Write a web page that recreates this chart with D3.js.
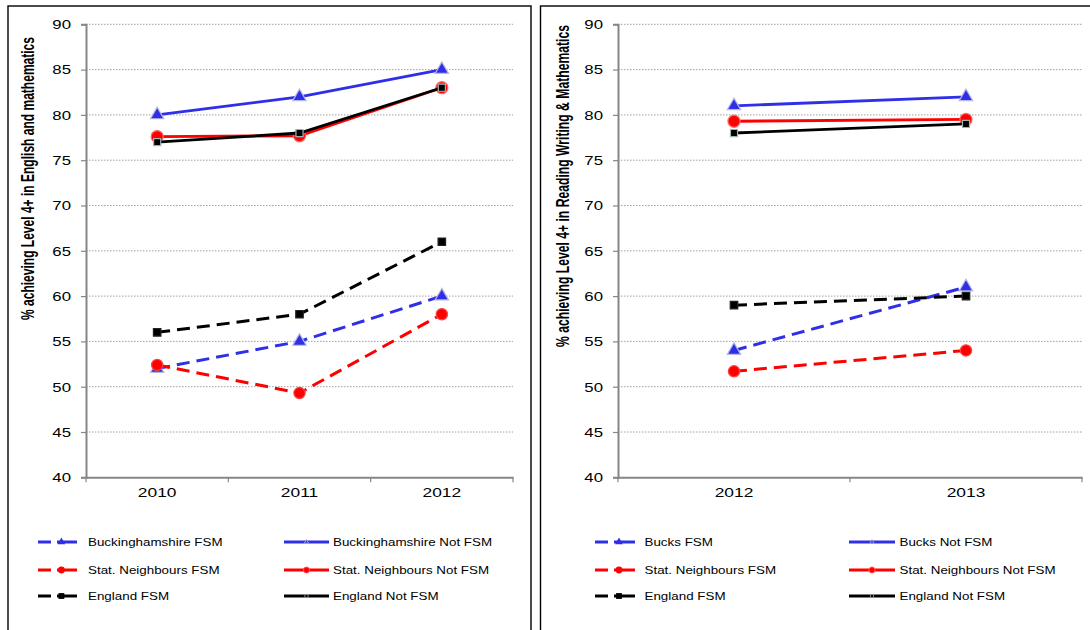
<!DOCTYPE html>
<html>
<head>
<meta charset="utf-8">
<script src="https://cdn.jsdelivr.net/npm/d3@7"></script>
<style>
  html, body { margin: 0; padding: 0; background: #fff; }
  svg { display: block; font-family: "Liberation Sans", Arial, sans-serif; }
</style>
</head>
<body>
<svg id="chart" width="1090" height="630"></svg>
<script>
// ---------------- DATA ----------------
const yTicks = [40, 45, 50, 55, 60, 65, 70, 75, 80, 85, 90];

// Left panel: English and mathematics
const yearsLeft = ["2010", "2011", "2012"];
const titleLeft = "% achieving Level 4+ in English and mathematics";
const namesLeft = ["Buckinghamshire FSM", "Buckinghamshire Not FSM",
                   "Stat. Neighbours FSM", "Stat. Neighbours Not FSM",
                   "England FSM", "England Not FSM"];
const bucksFsmLeft    = [52, 55, 60];
const bucksNotLeft    = [80, 82, 85];
const statFsmLeft     = [52.4, 49.3, 58];
const statNotLeft     = [77.6, 77.7, 83];
const englandFsmLeft  = [56, 58, 66];
const englandNotLeft  = [77, 78, 83];

// Right panel: Reading, Writing & Mathematics
const yearsRight = ["2012", "2013"];
const titleRight = "% achieving Level 4+ in Reading Writing & Mathematics";
const namesRight = ["Bucks FSM", "Bucks Not FSM",
                    "Stat. Neighbours FSM", "Stat. Neighbours Not FSM",
                    "England FSM", "England Not FSM"];
const bucksFsmRight   = [54, 61];
const bucksNotRight   = [81, 82];
const statFsmRight    = [51.7, 54];
const statNotRight    = [79.3, 79.5];
const englandFsmRight = [59, 60];
const englandNotRight = [78, 79];

// ---------------- STYLES ----------------
const BLUE = "#2f2fe8", RED = "#ff0000", BLACK = "#000000";
const seriesStyle = [
  { color: BLUE,  dashed: true,  shape: d3.symbolTriangle, size: 78, stroke: "#b8b8e0", lsize: 26 },
  { color: BLUE,  dashed: false, shape: d3.symbolTriangle, size: 78, stroke: "#b8b8e0", lsize: 8 },
  { color: RED,   dashed: true,  shape: d3.symbolCircle,   size: 100, stroke: "#ff4040", lsize: 36 },
  { color: RED,   dashed: false, shape: d3.symbolCircle,   size: 115, stroke: "#ff6a6a", lsize: 30 },
  { color: BLACK, dashed: true,  shape: d3.symbolSquare,   size: 56, stroke: "#222",    lsize: 34 },
  { color: BLACK, dashed: false, shape: d3.symbolSquare,   size: 50, stroke: "#9fb2b2", lsize: 10 }
];

const panels = [
  { frame: [8, 6, 523, 640], axisX: 86, axisRight: 513, top: 24.3, bottom: 477.3,
    years: yearsLeft, title: titleLeft, titleX: 34, titleY: 178.5, titleLen: 283,
    names: namesLeft,
    series: [bucksFsmLeft, bucksNotLeft, statFsmLeft, statNotLeft, englandFsmLeft, englandNotLeft],
    legendCols: [{ x1: 38, x2: 77, text: 88 }, { x1: 284, x2: 329, text: 333 }] },
  { frame: [540.5, 6, 560, 640], axisX: 618, axisRight: 1082, top: 24.3, bottom: 477.3,
    years: yearsRight, title: titleRight, titleX: 569, titleY: 186, titleLen: 322,
    names: namesRight,
    series: [bucksFsmRight, bucksNotRight, statFsmRight, statNotRight, englandFsmRight, englandNotRight],
    legendCols: [{ x1: 595, x2: 635, text: 644.5 }, { x1: 849, x2: 895, text: 899.5 }] }
];
const legendRows = [542, 570, 596];

const svg = d3.select("#chart");

panels.forEach(p => {
  const g = svg.append("g");

  // frame
  g.append("rect")
    .attr("x", p.frame[0]).attr("y", p.frame[1])
    .attr("width", p.frame[2]).attr("height", p.frame[3])
    .attr("fill", "none").attr("stroke", "#000").attr("stroke-width", 1.4);

  const y = d3.scaleLinear().domain([40, 90]).range([p.bottom, p.top]);
  const x = d3.scaleBand().domain(p.years).range([p.axisX, p.axisRight]).padding(0);
  const cx = d => x(d) + x.bandwidth() / 2;

  // gridlines
  g.append("g").selectAll("line")
    .data(yTicks.filter(t => t > 40))
    .join("line")
    .attr("x1", p.axisX).attr("x2", p.axisRight)
    .attr("y1", d => y(d)).attr("y2", d => y(d))
    .attr("stroke", "#a0a0a0").attr("stroke-width", 1)
    .attr("stroke-dasharray", "1.5,1.5");

  // y axis
  const ya = g.append("g")
    .attr("transform", `translate(${p.axisX},0)`)
    .call(d3.axisLeft(y).tickValues(yTicks).tickSize(5).tickPadding(0));
  ya.select(".domain").attr("stroke", "#868686").attr("stroke-width", 2);
  ya.selectAll(".tick line").attr("stroke", "#868686").attr("stroke-width", 1.2);
  ya.selectAll(".tick text")
    .attr("x", -15 / 1.4).attr("dy", "0.36em")
    .attr("transform", "scale(1.4,1)")
    .attr("font-size", 12).attr("fill", "#000")
    .attr("font-family", "Liberation Sans, Arial, sans-serif");

  // x axis
  const xa = g.append("g")
    .attr("transform", `translate(0,${p.bottom})`)
    .call(d3.axisBottom(x).tickSize(0).tickPadding(0));
  xa.select(".domain").attr("stroke", "#868686").attr("stroke-width", 2);
  xa.selectAll(".tick text")
    .attr("y", 20).attr("dy", 0)
    .attr("transform", "scale(1.39,1)")
    .attr("font-size", 12.5).attr("fill", "#000")
    .attr("font-family", "Liberation Sans, Arial, sans-serif");
  // boundary ticks
  const edges = p.years.map(d => x(d)).concat([p.axisRight]);
  g.append("g").selectAll("line").data(edges).join("line")
    .attr("x1", d => d).attr("x2", d => d)
    .attr("y1", p.bottom).attr("y2", p.bottom + 5)
    .attr("stroke", "#868686").attr("stroke-width", 1.2);

  // y title
  g.append("text")
    .attr("transform", `translate(${p.titleX},${p.titleY}) scale(1.4,1) rotate(-90)`)
    .attr("text-anchor", "middle")
    .attr("font-size", 13).attr("font-weight", "bold")
    .attr("textLength", p.titleLen).attr("lengthAdjust", "spacingAndGlyphs")
    .text(p.title);

  // lines and markers
  const line = d3.line().x(d => cx(d.year)).y(d => y(d.value));
  p.series.forEach((vals, i) => {
    const st = seriesStyle[i];
    const pts = vals.map((v, j) => ({ year: p.years[j], value: v }));
    g.append("path")
      .attr("d", line(pts))
      .attr("fill", "none")
      .attr("stroke", st.color)
      .attr("stroke-width", st.dashed ? 3 : 2.8)
      .attr("stroke-dasharray", st.dashed ? "13,7" : null);
    g.append("g").selectAll("path").data(pts).join("path")
      .attr("transform", d => `translate(${cx(d.year)},${y(d.value)})`)
      .attr("d", d3.symbol().type(st.shape).size(st.size))
      .attr("fill", st.color)
      .attr("stroke", st.stroke).attr("stroke-width", 1.2);
  });

  // legend
  p.names.forEach((name, i) => {
    const st = seriesStyle[i];
    const col = p.legendCols[i % 2];
    const yy = legendRows[Math.floor(i / 2)];
    g.append("line")
      .attr("x1", col.x1).attr("x2", col.x2)
      .attr("y1", yy).attr("y2", yy)
      .attr("stroke", st.color).attr("stroke-width", 3)
      .attr("stroke-dasharray", st.dashed ? "13,6,40" : null);
    const mx = st.dashed ? col.x1 + (col.x2 - col.x1) * 0.6 : (col.x1 + col.x2) / 2;
    g.append("path")
      .attr("transform", `translate(${mx},${yy})`)
      .attr("d", d3.symbol().type(st.shape).size(st.lsize))
      .attr("fill", st.color)
      .attr("stroke", st.dashed ? "none" : st.stroke).attr("stroke-width", 0.8);
    g.append("text")
      .attr("transform", `translate(${col.text},${yy}) scale(1.25,1)`)
      .attr("dy", "0.36em")
      .attr("font-size", 10.7).attr("fill", "#000")
      .text(name);
  });
});
</script>
</body>
</html>
